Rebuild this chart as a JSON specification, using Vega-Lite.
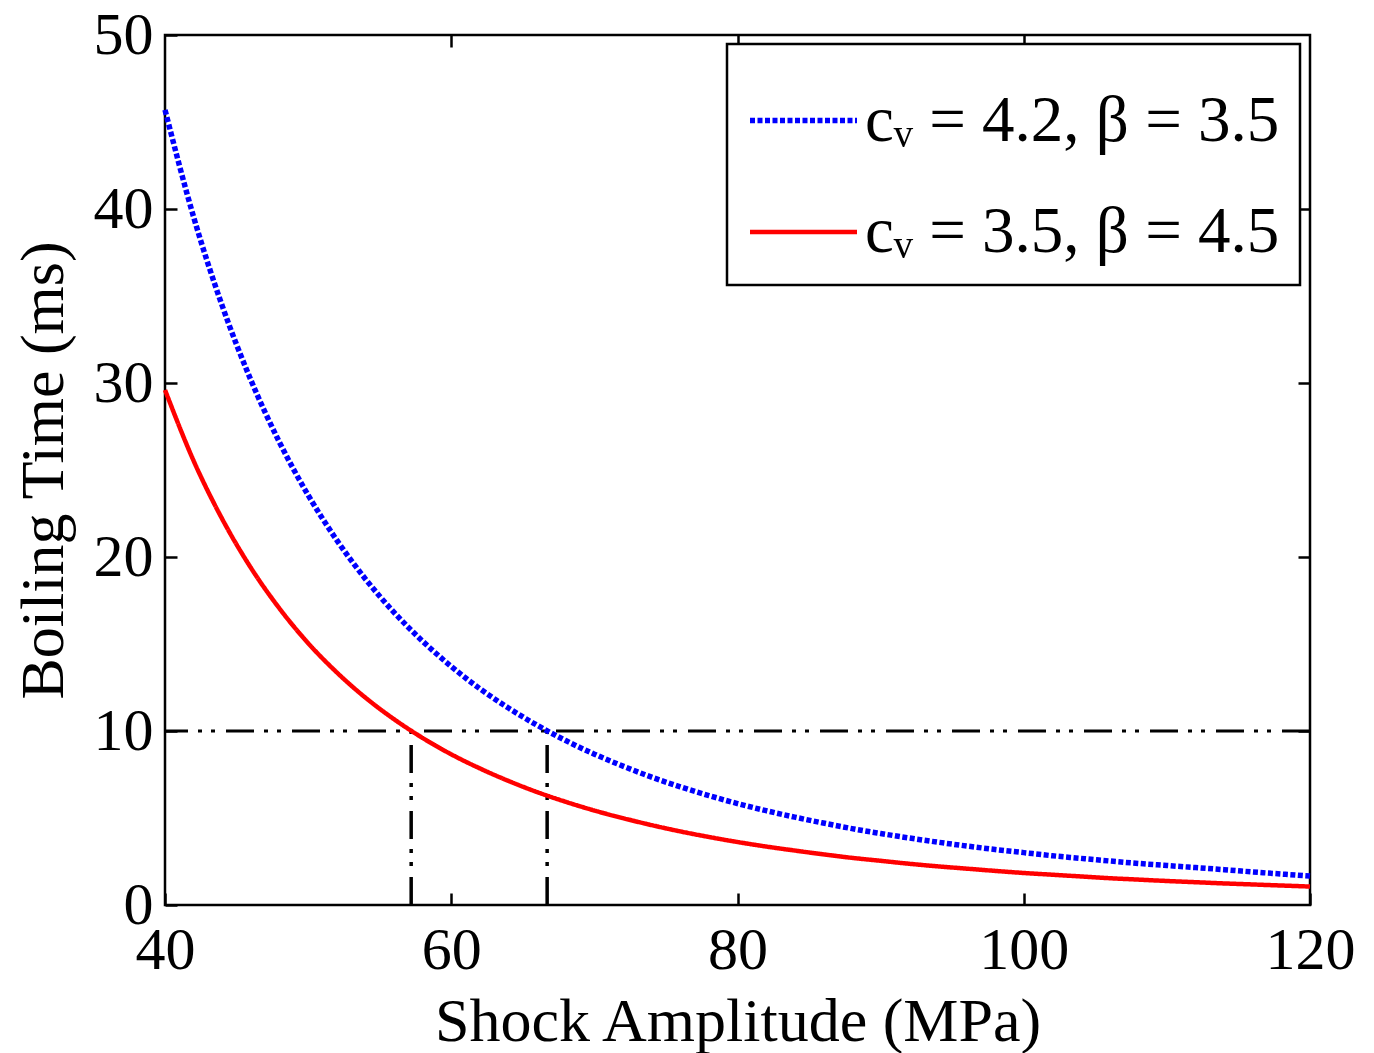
{
  "$schema": "https://vega.github.io/schema/vega-lite/v6.json",
  "width": 1145,
  "height": 870,
  "autosize": {"type": "none"},
  "padding": {"left": 165, "top": 35, "right": 64, "bottom": 148},
  "background": "white",
  "config": {
    "font": "Liberation Serif",
    "view": {"stroke": "black", "strokeWidth": 2.5},
    "axis": {
      "domain": false,
      "grid": false,
      "tickColor": "black",
      "tickWidth": 2.5,
      "tickSize": -12,
      "labelFlush": false,
      "labelFont": "Liberation Serif",
      "labelFontSize": 60,
      "labelColor": "black",
      "titleFont": "Liberation Serif",
      "titleFontSize": 62,
      "titleFontWeight": "normal",
      "titleColor": "black"
    },
    "legend": {
      "strokeColor": "black",
      "strokeWidth": 2.5,
      "fillColor": "white",
      "padding": 20,
      "symbolType": "stroke",
      "symbolSize": 11449,
      "symbolStrokeWidth": 5,
      "symbolOffset": 0,
      "labelOffset": 5,
      "labelFont": "Liberation Serif",
      "labelFontSize": 65,
      "labelColor": "black",
      "labelLimit": 0,
      "rowPadding": 22
    }
  },
  "datasets": {
    "curves": [
      {"P": 40, "T": 45.7, "s": "cᵥ = 4.2, β = 3.5"},
      {"P": 42, "T": 39.54, "s": "cᵥ = 4.2, β = 3.5"},
      {"P": 44, "T": 34.43, "s": "cᵥ = 4.2, β = 3.5"},
      {"P": 46, "T": 30.17, "s": "cᵥ = 4.2, β = 3.5"},
      {"P": 48, "T": 26.59, "s": "cᵥ = 4.2, β = 3.5"},
      {"P": 50, "T": 23.56, "s": "cᵥ = 4.2, β = 3.5"},
      {"P": 52, "T": 20.97, "s": "cᵥ = 4.2, β = 3.5"},
      {"P": 54, "T": 18.74, "s": "cᵥ = 4.2, β = 3.5"},
      {"P": 56, "T": 16.82, "s": "cᵥ = 4.2, β = 3.5"},
      {"P": 58, "T": 15.16, "s": "cᵥ = 4.2, β = 3.5"},
      {"P": 60, "T": 13.71, "s": "cᵥ = 4.2, β = 3.5"},
      {"P": 62, "T": 12.43, "s": "cᵥ = 4.2, β = 3.5"},
      {"P": 64, "T": 11.32, "s": "cᵥ = 4.2, β = 3.5"},
      {"P": 66, "T": 10.33, "s": "cᵥ = 4.2, β = 3.5"},
      {"P": 68, "T": 9.45, "s": "cᵥ = 4.2, β = 3.5"},
      {"P": 70, "T": 8.67, "s": "cᵥ = 4.2, β = 3.5"},
      {"P": 72, "T": 7.98, "s": "cᵥ = 4.2, β = 3.5"},
      {"P": 74, "T": 7.35, "s": "cᵥ = 4.2, β = 3.5"},
      {"P": 76, "T": 6.79, "s": "cᵥ = 4.2, β = 3.5"},
      {"P": 78, "T": 6.29, "s": "cᵥ = 4.2, β = 3.5"},
      {"P": 80, "T": 5.83, "s": "cᵥ = 4.2, β = 3.5"},
      {"P": 82, "T": 5.42, "s": "cᵥ = 4.2, β = 3.5"},
      {"P": 84, "T": 5.05, "s": "cᵥ = 4.2, β = 3.5"},
      {"P": 86, "T": 4.71, "s": "cᵥ = 4.2, β = 3.5"},
      {"P": 88, "T": 4.39, "s": "cᵥ = 4.2, β = 3.5"},
      {"P": 90, "T": 4.11, "s": "cᵥ = 4.2, β = 3.5"},
      {"P": 92, "T": 3.85, "s": "cᵥ = 4.2, β = 3.5"},
      {"P": 94, "T": 3.61, "s": "cᵥ = 4.2, β = 3.5"},
      {"P": 96, "T": 3.39, "s": "cᵥ = 4.2, β = 3.5"},
      {"P": 98, "T": 3.19, "s": "cᵥ = 4.2, β = 3.5"},
      {"P": 100, "T": 3.01, "s": "cᵥ = 4.2, β = 3.5"},
      {"P": 102, "T": 2.83, "s": "cᵥ = 4.2, β = 3.5"},
      {"P": 104, "T": 2.68, "s": "cᵥ = 4.2, β = 3.5"},
      {"P": 106, "T": 2.53, "s": "cᵥ = 4.2, β = 3.5"},
      {"P": 108, "T": 2.39, "s": "cᵥ = 4.2, β = 3.5"},
      {"P": 110, "T": 2.27, "s": "cᵥ = 4.2, β = 3.5"},
      {"P": 112, "T": 2.15, "s": "cᵥ = 4.2, β = 3.5"},
      {"P": 114, "T": 2.03, "s": "cᵥ = 4.2, β = 3.5"},
      {"P": 116, "T": 1.9, "s": "cᵥ = 4.2, β = 3.5"},
      {"P": 118, "T": 1.78, "s": "cᵥ = 4.2, β = 3.5"},
      {"P": 120, "T": 1.66, "s": "cᵥ = 4.2, β = 3.5"},
      {"P": 40, "T": 29.6, "s": "cᵥ = 3.5, β = 4.5"},
      {"P": 42, "T": 25.53, "s": "cᵥ = 3.5, β = 4.5"},
      {"P": 44, "T": 22.18, "s": "cᵥ = 3.5, β = 4.5"},
      {"P": 46, "T": 19.38, "s": "cᵥ = 3.5, β = 4.5"},
      {"P": 48, "T": 17.04, "s": "cᵥ = 3.5, β = 4.5"},
      {"P": 50, "T": 15.05, "s": "cᵥ = 3.5, β = 4.5"},
      {"P": 52, "T": 13.37, "s": "cᵥ = 3.5, β = 4.5"},
      {"P": 54, "T": 11.92, "s": "cᵥ = 3.5, β = 4.5"},
      {"P": 56, "T": 10.68, "s": "cᵥ = 3.5, β = 4.5"},
      {"P": 58, "T": 9.6, "s": "cᵥ = 3.5, β = 4.5"},
      {"P": 60, "T": 8.66, "s": "cᵥ = 3.5, β = 4.5"},
      {"P": 62, "T": 7.85, "s": "cᵥ = 3.5, β = 4.5"},
      {"P": 64, "T": 7.13, "s": "cᵥ = 3.5, β = 4.5"},
      {"P": 66, "T": 6.49, "s": "cᵥ = 3.5, β = 4.5"},
      {"P": 68, "T": 5.93, "s": "cᵥ = 3.5, β = 4.5"},
      {"P": 70, "T": 5.43, "s": "cᵥ = 3.5, β = 4.5"},
      {"P": 72, "T": 4.99, "s": "cᵥ = 3.5, β = 4.5"},
      {"P": 74, "T": 4.59, "s": "cᵥ = 3.5, β = 4.5"},
      {"P": 76, "T": 4.23, "s": "cᵥ = 3.5, β = 4.5"},
      {"P": 78, "T": 3.91, "s": "cᵥ = 3.5, β = 4.5"},
      {"P": 80, "T": 3.62, "s": "cᵥ = 3.5, β = 4.5"},
      {"P": 82, "T": 3.36, "s": "cᵥ = 3.5, β = 4.5"},
      {"P": 84, "T": 3.13, "s": "cᵥ = 3.5, β = 4.5"},
      {"P": 86, "T": 2.91, "s": "cᵥ = 3.5, β = 4.5"},
      {"P": 88, "T": 2.71, "s": "cᵥ = 3.5, β = 4.5"},
      {"P": 90, "T": 2.54, "s": "cᵥ = 3.5, β = 4.5"},
      {"P": 92, "T": 2.37, "s": "cᵥ = 3.5, β = 4.5"},
      {"P": 94, "T": 2.22, "s": "cᵥ = 3.5, β = 4.5"},
      {"P": 96, "T": 2.09, "s": "cᵥ = 3.5, β = 4.5"},
      {"P": 98, "T": 1.96, "s": "cᵥ = 3.5, β = 4.5"},
      {"P": 100, "T": 1.84, "s": "cᵥ = 3.5, β = 4.5"},
      {"P": 102, "T": 1.74, "s": "cᵥ = 3.5, β = 4.5"},
      {"P": 104, "T": 1.64, "s": "cᵥ = 3.5, β = 4.5"},
      {"P": 106, "T": 1.54, "s": "cᵥ = 3.5, β = 4.5"},
      {"P": 108, "T": 1.46, "s": "cᵥ = 3.5, β = 4.5"},
      {"P": 110, "T": 1.38, "s": "cᵥ = 3.5, β = 4.5"},
      {"P": 112, "T": 1.31, "s": "cᵥ = 3.5, β = 4.5"},
      {"P": 114, "T": 1.24, "s": "cᵥ = 3.5, β = 4.5"},
      {"P": 116, "T": 1.18, "s": "cᵥ = 3.5, β = 4.5"},
      {"P": 118, "T": 1.12, "s": "cᵥ = 3.5, β = 4.5"},
      {"P": 120, "T": 1.06, "s": "cᵥ = 3.5, β = 4.5"}
    ],
    "threshold": [{"T": 10}],
    "crossings": [
      {"P": 57.2, "T0": 0, "T1": 10},
      {"P": 66.7, "T0": 0, "T1": 10}
    ]
  },
  "layer": [
    {
      "data": {"name": "threshold"},
      "mark": {"type": "rule", "color": "black", "strokeWidth": 3, "strokeDash": [28, 11, 4, 9, 4, 10]},
      "encoding": {
        "y": {"field": "T", "type": "quantitative", "scale": {"domain": [0, 50], "nice": false}, "axis": null}
      }
    },
    {
      "data": {"name": "crossings"},
      "mark": {"type": "rule", "color": "black", "strokeWidth": 3.5, "strokeDash": [28, 11, 4, 9, 4, 10]},
      "encoding": {
        "x": {"field": "P", "type": "quantitative", "scale": {"domain": [40, 120], "nice": false},
              "axis": {"orient": "top", "values": [60, 80, 100], "labels": false, "title": null}},
        "y": {"field": "T0", "type": "quantitative", "scale": {"domain": [0, 50], "nice": false},
              "axis": {"orient": "right", "values": [10, 20, 30, 40], "labels": false, "title": null}},
        "y2": {"field": "T1"}
      }
    },
    {
      "data": {"name": "curves"},
      "mark": {"type": "line", "interpolate": "monotone"},
      "encoding": {
        "x": {"field": "P", "type": "quantitative", "scale": {"domain": [40, 120], "nice": false},
              "axis": {"orient": "bottom", "values": [40, 60, 80, 100, 120], "title": "Shock Amplitude (MPa)",
                       "labelPadding": 28, "titleY": 135, "titleBaseline": "alphabetic"}},
        "y": {"field": "T", "type": "quantitative", "scale": {"domain": [0, 50], "nice": false},
              "axis": {"orient": "left", "values": [0, 10, 20, 30, 40, 50], "title": "Boiling Time (ms)",
                       "labelPadding": 24, "titleX": -103, "titleY": 435, "titleAlign": "center", "titleBaseline": "alphabetic"}},
        "color": {"field": "s", "type": "nominal",
                  "scale": {"domain": ["cᵥ = 4.2, β = 3.5", "cᵥ = 3.5, β = 4.5"], "range": ["#0000ff", "#ff0000"]},
                  "legend": {"title": null, "orient": "none", "legendX": 562, "legendY": 9}},
        "strokeDash": {"field": "s", "type": "nominal",
                  "scale": {"domain": ["cᵥ = 4.2, β = 3.5", "cᵥ = 3.5, β = 4.5"], "range": [[5, 2.5], [1, 0]]},
                  "legend": {"title": null, "orient": "none", "legendX": 562, "legendY": 9}},
        "strokeWidth": {"field": "s", "type": "nominal",
                  "scale": {"domain": ["cᵥ = 4.2, β = 3.5", "cᵥ = 3.5, β = 4.5"], "range": [5.5, 4.5]},
                  "legend": null}
      }
    }
  ],
  "resolve": {"axis": {"x": "independent", "y": "independent"}}
}
